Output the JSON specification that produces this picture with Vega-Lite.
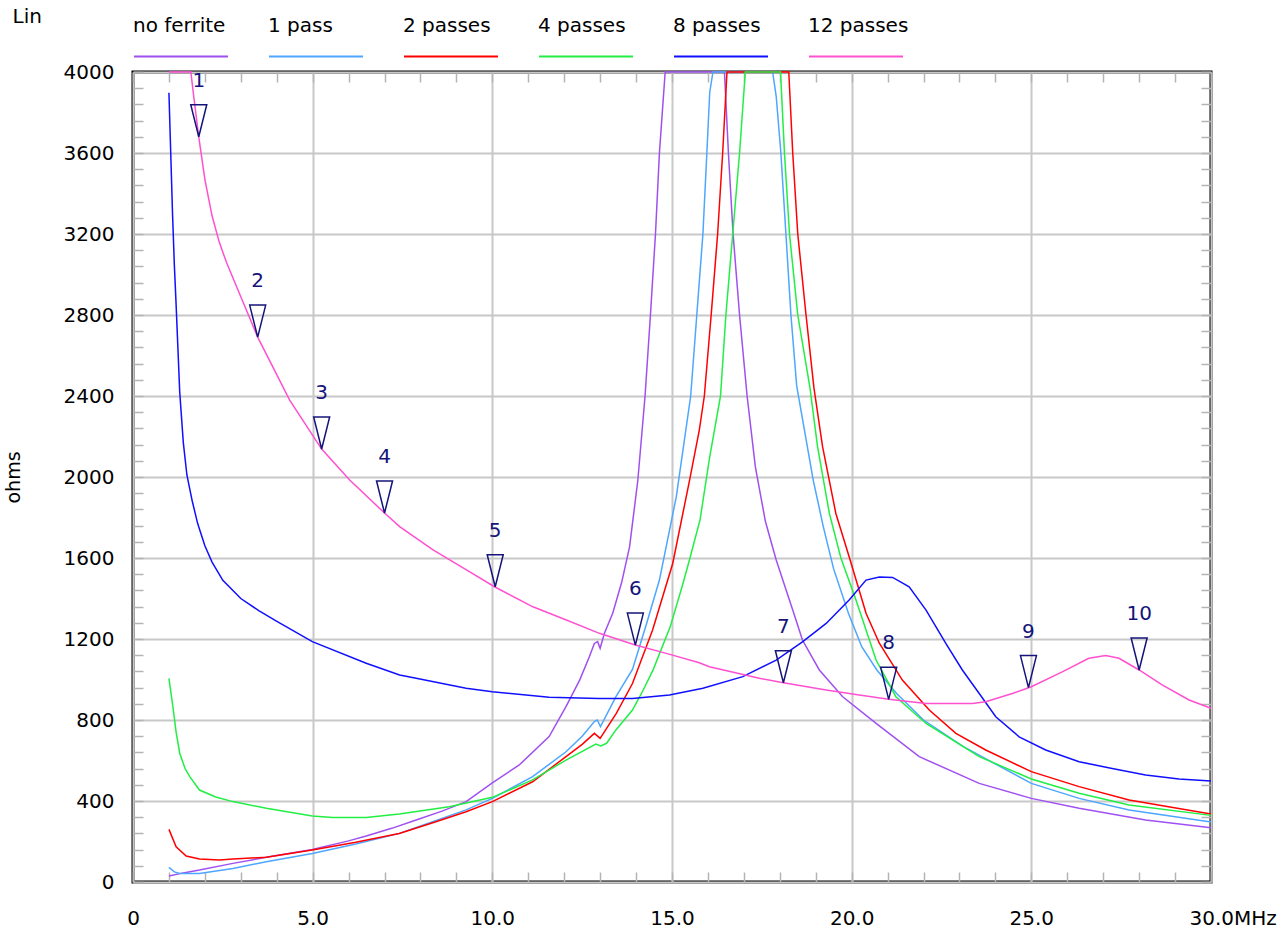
{
  "$schema": "https://vega.github.io/schema/vega-lite/v6.json",
  "width": 1078,
  "height": 810,
  "autosize": {"type": "none"},
  "padding": {"left": 133, "top": 72, "right": 68, "bottom": 47},
  "background": "white",
  "datasets": {
    "curves": [
      {"series":"no ferrite","mhz":1.0,"ohms":30},{"series":"no ferrite","mhz":1.4,"ohms":45},{"series":"no ferrite","mhz":1.85,"ohms":59},{"series":"no ferrite","mhz":2.78,"ohms":92},{"series":"no ferrite","mhz":3.71,"ohms":122},{"series":"no ferrite","mhz":4.99,"ohms":161},{"series":"no ferrite","mhz":6.0,"ohms":203},{"series":"no ferrite","mhz":6.49,"ohms":227},{"series":"no ferrite","mhz":7.2,"ohms":265},{"series":"no ferrite","mhz":7.88,"ohms":306},{"series":"no ferrite","mhz":8.6,"ohms":350},{"series":"no ferrite","mhz":9.27,"ohms":397},{"series":"no ferrite","mhz":10.0,"ohms":490},{"series":"no ferrite","mhz":10.75,"ohms":578},{"series":"no ferrite","mhz":11.58,"ohms":718},{"series":"no ferrite","mhz":12.05,"ohms":866},{"series":"no ferrite","mhz":12.43,"ohms":997},{"series":"no ferrite","mhz":12.7,"ohms":1112},{"series":"no ferrite","mhz":12.84,"ohms":1178},{"series":"no ferrite","mhz":12.93,"ohms":1187},{"series":"no ferrite","mhz":13.0,"ohms":1154},{"series":"no ferrite","mhz":13.12,"ohms":1228},{"series":"no ferrite","mhz":13.35,"ohms":1327},{"series":"no ferrite","mhz":13.6,"ohms":1480},{"series":"no ferrite","mhz":13.82,"ohms":1656},{"series":"no ferrite","mhz":14.05,"ohms":1985},{"series":"no ferrite","mhz":14.25,"ohms":2400},{"series":"no ferrite","mhz":14.4,"ohms":2800},{"series":"no ferrite","mhz":14.54,"ohms":3200},{"series":"no ferrite","mhz":14.65,"ohms":3600},{"series":"no ferrite","mhz":14.81,"ohms":4000},{"series":"no ferrite","mhz":16.46,"ohms":4000},{"series":"no ferrite","mhz":16.57,"ohms":3600},{"series":"no ferrite","mhz":16.7,"ohms":3200},{"series":"no ferrite","mhz":16.88,"ohms":2800},{"series":"no ferrite","mhz":17.09,"ohms":2400},{"series":"no ferrite","mhz":17.32,"ohms":2050},{"series":"no ferrite","mhz":17.6,"ohms":1780},{"series":"no ferrite","mhz":17.9,"ohms":1590},{"series":"no ferrite","mhz":18.36,"ohms":1343},{"series":"no ferrite","mhz":18.63,"ohms":1195},{"series":"no ferrite","mhz":19.1,"ohms":1047},{"series":"no ferrite","mhz":19.75,"ohms":915},{"series":"no ferrite","mhz":20.68,"ohms":783},{"series":"no ferrite","mhz":21.88,"ohms":619},{"series":"no ferrite","mhz":23.55,"ohms":487},{"series":"no ferrite","mhz":25.0,"ohms":413},{"series":"no ferrite","mhz":26.33,"ohms":364},{"series":"no ferrite","mhz":28.18,"ohms":306},{"series":"no ferrite","mhz":30.0,"ohms":268},

      {"series":"1 pass","mhz":1.0,"ohms":72},{"series":"1 pass","mhz":1.15,"ohms":50},{"series":"1 pass","mhz":1.3,"ohms":42},{"series":"1 pass","mhz":1.85,"ohms":42},{"series":"1 pass","mhz":2.78,"ohms":67},{"series":"1 pass","mhz":3.71,"ohms":100},{"series":"1 pass","mhz":4.99,"ohms":141},{"series":"1 pass","mhz":6.2,"ohms":188},{"series":"1 pass","mhz":7.41,"ohms":240},{"series":"1 pass","mhz":8.3,"ohms":295},{"series":"1 pass","mhz":9.27,"ohms":356},{"series":"1 pass","mhz":10.0,"ohms":413},{"series":"1 pass","mhz":11.12,"ohms":520},{"series":"1 pass","mhz":12.05,"ohms":643},{"series":"1 pass","mhz":12.5,"ohms":720},{"series":"1 pass","mhz":12.84,"ohms":792},{"series":"1 pass","mhz":12.92,"ohms":800},{"series":"1 pass","mhz":13.01,"ohms":767},{"series":"1 pass","mhz":13.44,"ohms":915},{"series":"1 pass","mhz":13.9,"ohms":1050},{"series":"1 pass","mhz":14.3,"ohms":1280},{"series":"1 pass","mhz":14.65,"ohms":1491},{"series":"1 pass","mhz":15.12,"ohms":1903},{"series":"1 pass","mhz":15.52,"ohms":2400},{"series":"1 pass","mhz":15.69,"ohms":2800},{"series":"1 pass","mhz":15.86,"ohms":3200},{"series":"1 pass","mhz":15.97,"ohms":3600},{"series":"1 pass","mhz":16.05,"ohms":3900},{"series":"1 pass","mhz":16.14,"ohms":4000},{"series":"1 pass","mhz":17.8,"ohms":4000},{"series":"1 pass","mhz":17.9,"ohms":3880},{"series":"1 pass","mhz":18.03,"ohms":3600},{"series":"1 pass","mhz":18.17,"ohms":3200},{"series":"1 pass","mhz":18.31,"ohms":2800},{"series":"1 pass","mhz":18.47,"ohms":2450},{"series":"1 pass","mhz":18.93,"ohms":1985},{"series":"1 pass","mhz":19.21,"ohms":1755},{"series":"1 pass","mhz":19.5,"ohms":1545},{"series":"1 pass","mhz":19.91,"ohms":1327},{"series":"1 pass","mhz":20.28,"ohms":1162},{"series":"1 pass","mhz":20.7,"ohms":1047},{"series":"1 pass","mhz":21.25,"ohms":931},{"series":"1 pass","mhz":22.0,"ohms":800},{"series":"1 pass","mhz":23.11,"ohms":668},{"series":"1 pass","mhz":25.0,"ohms":487},{"series":"1 pass","mhz":26.33,"ohms":413},{"series":"1 pass","mhz":27.72,"ohms":356},{"series":"1 pass","mhz":30.0,"ohms":296},

      {"series":"2 passes","mhz":1.0,"ohms":260},{"series":"2 passes","mhz":1.2,"ohms":174},{"series":"2 passes","mhz":1.48,"ohms":128},{"series":"2 passes","mhz":1.85,"ohms":114},{"series":"2 passes","mhz":2.41,"ohms":109},{"series":"2 passes","mhz":2.78,"ohms":114},{"series":"2 passes","mhz":3.71,"ohms":122},{"series":"2 passes","mhz":4.99,"ohms":158},{"series":"2 passes","mhz":6.2,"ohms":196},{"series":"2 passes","mhz":7.41,"ohms":240},{"series":"2 passes","mhz":8.3,"ohms":290},{"series":"2 passes","mhz":9.27,"ohms":347},{"series":"2 passes","mhz":10.0,"ohms":397},{"series":"2 passes","mhz":11.12,"ohms":495},{"series":"2 passes","mhz":12.05,"ohms":619},{"series":"2 passes","mhz":12.5,"ohms":680},{"series":"2 passes","mhz":12.84,"ohms":734},{"series":"2 passes","mhz":13.0,"ohms":709},{"series":"2 passes","mhz":13.45,"ohms":833},{"series":"2 passes","mhz":13.9,"ohms":980},{"series":"2 passes","mhz":14.46,"ohms":1244},{"series":"2 passes","mhz":15.02,"ohms":1573},{"series":"2 passes","mhz":15.49,"ohms":1985},{"series":"2 passes","mhz":15.76,"ohms":2232},{"series":"2 passes","mhz":15.9,"ohms":2400},{"series":"2 passes","mhz":16.09,"ohms":2800},{"series":"2 passes","mhz":16.27,"ohms":3200},{"series":"2 passes","mhz":16.41,"ohms":3600},{"series":"2 passes","mhz":16.53,"ohms":4000},{"series":"2 passes","mhz":18.25,"ohms":4000},{"series":"2 passes","mhz":18.36,"ohms":3600},{"series":"2 passes","mhz":18.5,"ohms":3200},{"series":"2 passes","mhz":18.73,"ohms":2800},{"series":"2 passes","mhz":18.95,"ohms":2440},{"series":"2 passes","mhz":19.19,"ohms":2150},{"series":"2 passes","mhz":19.56,"ohms":1820},{"series":"2 passes","mhz":19.93,"ohms":1606},{"series":"2 passes","mhz":20.4,"ohms":1327},{"series":"2 passes","mhz":20.77,"ohms":1179},{"series":"2 passes","mhz":21.41,"ohms":997},{"series":"2 passes","mhz":22.16,"ohms":849},{"series":"2 passes","mhz":22.9,"ohms":734},{"series":"2 passes","mhz":23.73,"ohms":652},{"series":"2 passes","mhz":25.0,"ohms":545},{"series":"2 passes","mhz":26.33,"ohms":471},{"series":"2 passes","mhz":27.72,"ohms":405},{"series":"2 passes","mhz":30.0,"ohms":336},

      {"series":"4 passes","mhz":1.0,"ohms":1006},{"series":"4 passes","mhz":1.11,"ohms":866},{"series":"4 passes","mhz":1.2,"ohms":740},{"series":"4 passes","mhz":1.3,"ohms":636},{"series":"4 passes","mhz":1.45,"ohms":560},{"series":"4 passes","mhz":1.58,"ohms":520},{"series":"4 passes","mhz":1.85,"ohms":454},{"series":"4 passes","mhz":2.3,"ohms":420},{"series":"4 passes","mhz":2.78,"ohms":397},{"series":"4 passes","mhz":3.71,"ohms":364},{"series":"4 passes","mhz":4.99,"ohms":326},{"series":"4 passes","mhz":5.56,"ohms":319},{"series":"4 passes","mhz":6.49,"ohms":319},{"series":"4 passes","mhz":7.41,"ohms":336},{"series":"4 passes","mhz":8.8,"ohms":372},{"series":"4 passes","mhz":10.0,"ohms":418},{"series":"4 passes","mhz":11.12,"ohms":504},{"series":"4 passes","mhz":12.05,"ohms":602},{"series":"4 passes","mhz":12.88,"ohms":681},{"series":"4 passes","mhz":13.02,"ohms":672},{"series":"4 passes","mhz":13.18,"ohms":685},{"series":"4 passes","mhz":13.44,"ohms":751},{"series":"4 passes","mhz":13.9,"ohms":849},{"series":"4 passes","mhz":14.2,"ohms":948},{"series":"4 passes","mhz":14.48,"ohms":1050},{"series":"4 passes","mhz":14.95,"ohms":1260},{"series":"4 passes","mhz":15.3,"ohms":1470},{"series":"4 passes","mhz":15.5,"ohms":1600},{"series":"4 passes","mhz":15.78,"ohms":1788},{"series":"4 passes","mhz":16.05,"ohms":2100},{"series":"4 passes","mhz":16.35,"ohms":2400},{"series":"4 passes","mhz":16.5,"ohms":2800},{"series":"4 passes","mhz":16.69,"ohms":3200},{"series":"4 passes","mhz":16.88,"ohms":3600},{"series":"4 passes","mhz":17.04,"ohms":4000},{"series":"4 passes","mhz":18.02,"ohms":4000},{"series":"4 passes","mhz":18.13,"ohms":3600},{"series":"4 passes","mhz":18.27,"ohms":3200},{"series":"4 passes","mhz":18.5,"ohms":2800},{"series":"4 passes","mhz":18.84,"ohms":2440},{"series":"4 passes","mhz":19.05,"ohms":2150},{"series":"4 passes","mhz":19.38,"ohms":1820},{"series":"4 passes","mhz":19.7,"ohms":1600},{"series":"4 passes","mhz":20.12,"ohms":1393},{"series":"4 passes","mhz":20.68,"ohms":1096},{"series":"4 passes","mhz":21.23,"ohms":915},{"series":"4 passes","mhz":22.07,"ohms":783},{"series":"4 passes","mhz":23.55,"ohms":619},{"series":"4 passes","mhz":25.0,"ohms":509},{"series":"4 passes","mhz":26.33,"ohms":438},{"series":"4 passes","mhz":27.72,"ohms":380},{"series":"4 passes","mhz":30.0,"ohms":329},

      {"series":"8 passes","mhz":1.0,"ohms":3898},{"series":"8 passes","mhz":1.05,"ohms":3600},{"series":"8 passes","mhz":1.1,"ohms":3300},{"series":"8 passes","mhz":1.15,"ohms":3050},{"series":"8 passes","mhz":1.2,"ohms":2850},{"series":"8 passes","mhz":1.3,"ohms":2420},{"series":"8 passes","mhz":1.4,"ohms":2170},{"series":"8 passes","mhz":1.5,"ohms":2010},{"series":"8 passes","mhz":1.65,"ohms":1880},{"series":"8 passes","mhz":1.8,"ohms":1770},{"series":"8 passes","mhz":2.0,"ohms":1660},{"series":"8 passes","mhz":2.2,"ohms":1580},{"series":"8 passes","mhz":2.5,"ohms":1490},{"series":"8 passes","mhz":3.0,"ohms":1400},{"series":"8 passes","mhz":3.5,"ohms":1340},{"series":"8 passes","mhz":3.98,"ohms":1290},{"series":"8 passes","mhz":4.99,"ohms":1187},{"series":"8 passes","mhz":6.49,"ohms":1080},{"series":"8 passes","mhz":7.42,"ohms":1022},{"series":"8 passes","mhz":7.88,"ohms":1006},{"series":"8 passes","mhz":9.27,"ohms":957},{"series":"8 passes","mhz":10.0,"ohms":940},{"series":"8 passes","mhz":11.58,"ohms":912},{"series":"8 passes","mhz":12.97,"ohms":906},{"series":"8 passes","mhz":13.9,"ohms":906},{"series":"8 passes","mhz":14.93,"ohms":923},{"series":"8 passes","mhz":15.86,"ohms":957},{"series":"8 passes","mhz":16.97,"ohms":1014},{"series":"8 passes","mhz":17.9,"ohms":1096},{"series":"8 passes","mhz":18.64,"ohms":1187},{"series":"8 passes","mhz":19.29,"ohms":1277},{"series":"8 passes","mhz":19.93,"ohms":1393},{"series":"8 passes","mhz":20.4,"ohms":1491},{"series":"8 passes","mhz":20.77,"ohms":1506},{"series":"8 passes","mhz":21.14,"ohms":1504},{"series":"8 passes","mhz":21.6,"ohms":1458},{"series":"8 passes","mhz":22.07,"ohms":1343},{"series":"8 passes","mhz":22.62,"ohms":1178},{"series":"8 passes","mhz":23.08,"ohms":1047},{"series":"8 passes","mhz":23.55,"ohms":931},{"series":"8 passes","mhz":24.01,"ohms":816},{"series":"8 passes","mhz":24.66,"ohms":717},{"series":"8 passes","mhz":25.4,"ohms":652},{"series":"8 passes","mhz":26.33,"ohms":594},{"series":"8 passes","mhz":27.25,"ohms":561},{"series":"8 passes","mhz":28.18,"ohms":528},{"series":"8 passes","mhz":29.11,"ohms":509},{"series":"8 passes","mhz":30.0,"ohms":499},

      {"series":"12 passes","mhz":1.0,"ohms":4000},{"series":"12 passes","mhz":1.61,"ohms":4000},{"series":"12 passes","mhz":1.68,"ohms":3894},{"series":"12 passes","mhz":1.83,"ohms":3680},{"series":"12 passes","mhz":2.0,"ohms":3470},{"series":"12 passes","mhz":2.2,"ohms":3290},{"series":"12 passes","mhz":2.4,"ohms":3160},{"series":"12 passes","mhz":2.6,"ohms":3060},{"series":"12 passes","mhz":3.0,"ohms":2890},{"series":"12 passes","mhz":3.47,"ohms":2691},{"series":"12 passes","mhz":4.36,"ohms":2380},{"series":"12 passes","mhz":5.25,"ohms":2138},{"series":"12 passes","mhz":6.03,"ohms":1985},{"series":"12 passes","mhz":7.0,"ohms":1822},{"series":"12 passes","mhz":7.42,"ohms":1755},{"series":"12 passes","mhz":8.35,"ohms":1640},{"series":"12 passes","mhz":9.28,"ohms":1541},{"series":"12 passes","mhz":10.06,"ohms":1458},{"series":"12 passes","mhz":11.13,"ohms":1359},{"series":"12 passes","mhz":12.06,"ohms":1294},{"series":"12 passes","mhz":12.98,"ohms":1228},{"series":"12 passes","mhz":13.98,"ohms":1170},{"series":"12 passes","mhz":14.84,"ohms":1129},{"series":"12 passes","mhz":15.76,"ohms":1083},{"series":"12 passes","mhz":16.04,"ohms":1063},{"series":"12 passes","mhz":17.43,"ohms":1006},{"series":"12 passes","mhz":18.1,"ohms":984},{"series":"12 passes","mhz":19.29,"ohms":948},{"series":"12 passes","mhz":20.21,"ohms":923},{"series":"12 passes","mhz":21.03,"ohms":902},{"series":"12 passes","mhz":22.07,"ohms":882},{"series":"12 passes","mhz":23.36,"ohms":882},{"series":"12 passes","mhz":23.73,"ohms":890},{"series":"12 passes","mhz":24.47,"ohms":931},{"series":"12 passes","mhz":25.0,"ohms":964},{"series":"12 passes","mhz":25.86,"ohms":1038},{"series":"12 passes","mhz":26.6,"ohms":1105},{"series":"12 passes","mhz":27.07,"ohms":1119},{"series":"12 passes","mhz":27.44,"ohms":1105},{"series":"12 passes","mhz":28.0,"ohms":1047},{"series":"12 passes","mhz":28.64,"ohms":973},{"series":"12 passes","mhz":29.39,"ohms":899},{"series":"12 passes","mhz":30.0,"ohms":858}
    ],
    "markers": [
      {"n":"1","mhz":1.83,"ohms":3680},{"n":"2","mhz":3.47,"ohms":2691},{"n":"3","mhz":5.25,"ohms":2138},{"n":"4","mhz":7.0,"ohms":1822},{"n":"5","mhz":10.08,"ohms":1458},{"n":"6","mhz":13.98,"ohms":1170},{"n":"7","mhz":18.1,"ohms":984},{"n":"8","mhz":21.03,"ohms":902},{"n":"9","mhz":24.92,"ohms":960},{"n":"10","mhz":28.0,"ohms":1047}
    ]
  },
  "layer": [
    {
      "data": {"name": "curves"},
      "mark": {"type": "line", "strokeWidth": 1.5},
      "encoding": {
        "x": {
          "field": "mhz", "type": "quantitative",
          "scale": {"domain": [0, 30], "nice": false, "zero": false},
          "axis": {
            "orient": "bottom", "title": null,
            "values": [0,1,2,3,4,5,6,7,8,9,10,11,12,13,14,15,16,17,18,19,20,21,22,23,24,25,26,27,28,29,30],
            "labelExpr": "datum.value % 5 === 0 ? (datum.value === 0 ? '0' : (datum.value === 30 ? '30.0MHz' : format(datum.value, '.1f'))) : ''",
            "labelAlign": {"condition": {"test": "datum.value === 30", "value": "left"}, "value": "center"},
            "labelOffset": {"condition": {"test": "datum.value === 30", "value": -22}, "value": 0},
            "labelFlush": false, "labelOverlap": false,
            "labelPadding": 36, "labelFontSize": 20, "labelColor": "black",
            "tickSize": -10, "tickColor": "#b4b4b4", "tickWidth": 1.5,
            "domain": false,
            "grid": true, "gridColor": "#c8c8c8", "gridWidth": 2,
            "gridOpacity": {"condition": {"test": "datum.value % 5 === 0", "value": 1}, "value": 0}
          }
        },
        "y": {
          "field": "ohms", "type": "quantitative",
          "scale": {"domain": [0, 4000], "nice": false},
          "axis": {
            "orient": "left",
            "values": [0,80,160,240,320,400,480,560,640,720,800,880,960,1040,1120,1200,1280,1360,1440,1520,1600,1680,1760,1840,1920,2000,2080,2160,2240,2320,2400,2480,2560,2640,2720,2800,2880,2960,3040,3120,3200,3280,3360,3440,3520,3600,3680,3760,3840,3920,4000],
            "format": "d",
            "labelExpr": "datum.value % 400 === 0 ? datum.label : ''",
            "labelFlush": false, "labelOverlap": false,
            "labelPadding": 29, "labelFontSize": 20, "labelColor": "black",
            "tickSize": -10, "tickColor": "#b4b4b4", "tickWidth": 1.5,
            "domain": false,
            "grid": true, "gridColor": "#c8c8c8", "gridWidth": 2,
            "gridOpacity": {"condition": {"test": "datum.value % 400 === 0", "value": 1}, "value": 0},
            "title": "ohms", "titleX": -114, "titleY": 405, "titleAngle": -90,
            "titleAlign": "center", "titleBaseline": "alphabetic",
            "titleFontSize": 19, "titleFontWeight": "normal", "titleColor": "black"
          }
        },
        "color": {
          "field": "series", "type": "nominal",
          "scale": {
            "domain": ["no ferrite", "1 pass", "2 passes", "4 passes", "8 passes", "12 passes"],
            "range": ["#a050f0", "#4da6ff", "#ff0000", "#22ee44", "#1010ff", "#ff50d0"]
          },
          "legend": {
            "orient": "none", "legendX": 0, "legendY": -63.5,
            "direction": "horizontal", "title": null,
            "symbolType": "stroke", "symbolSize": 8836, "symbolStrokeWidth": 2,
            "labelOffset": -96, "columnPadding": 33,
            "labelFontSize": 20, "labelColor": "black", "labelBaseline": "alphabetic", "labelLimit": 300,
            "padding": 0,
            "encode": {"labels": {"update": {"dy": {"value": -24.5}}}}
          }
        }
      }
    },
    {
      "data": {"name": "markers"},
      "mark": {"type": "point", "shape": "M -0.5 -2 L 0.5 -2 L 0 0 Z", "size": 1024, "filled": false, "stroke": "#14147a", "strokeWidth": 1.5, "opacity": 1},
      "encoding": {
        "x": {
          "field": "mhz", "type": "quantitative",
          "axis": {
            "orient": "top",
            "values": [0,1,2,3,4,5,6,7,8,9,10,11,12,13,14,15,16,17,18,19,20,21,22,23,24,25,26,27,28,29,30],
            "labels": false, "domain": false, "grid": false,
            "tickSize": -10, "tickColor": "#b4b4b4", "tickWidth": 1.5,
            "title": "Lin", "titleX": -121, "titleY": -50, "titleAngle": 0,
            "titleAlign": "left", "titleBaseline": "alphabetic",
            "titleFontSize": 20, "titleFontWeight": "normal", "titleColor": "black"
          }
        },
        "y": {
          "field": "ohms", "type": "quantitative",
          "axis": {
            "orient": "right",
            "values": [0,80,160,240,320,400,480,560,640,720,800,880,960,1040,1120,1200,1280,1360,1440,1520,1600,1680,1760,1840,1920,2000,2080,2160,2240,2320,2400,2480,2560,2640,2720,2800,2880,2960,3040,3120,3200,3280,3360,3440,3520,3600,3680,3760,3840,3920,4000],
            "labels": false, "domain": false, "grid": false, "title": null,
            "tickSize": -10, "tickColor": "#b4b4b4", "tickWidth": 1.5
          }
        }
      }
    },
    {
      "data": {"name": "markers"},
      "mark": {"type": "text", "dy": -50, "baseline": "alphabetic", "align": "center", "fontSize": 20, "color": "#14147a"},
      "encoding": {
        "x": {"field": "mhz", "type": "quantitative", "axis": null},
        "y": {"field": "ohms", "type": "quantitative", "axis": null},
        "text": {"field": "n"}
      }
    }
  ],
  "resolve": {"axis": {"x": "independent", "y": "independent"}},
  "config": {
    "font": "DejaVu Sans",
    "view": {"stroke": "black", "strokeWidth": 3},
    "axis": {"labelFont": "DejaVu Sans", "titleFont": "DejaVu Sans"},
    "legend": {"labelFont": "DejaVu Sans", "titleFont": "DejaVu Sans"},
    "text": {"font": "DejaVu Sans"}
  }
}
